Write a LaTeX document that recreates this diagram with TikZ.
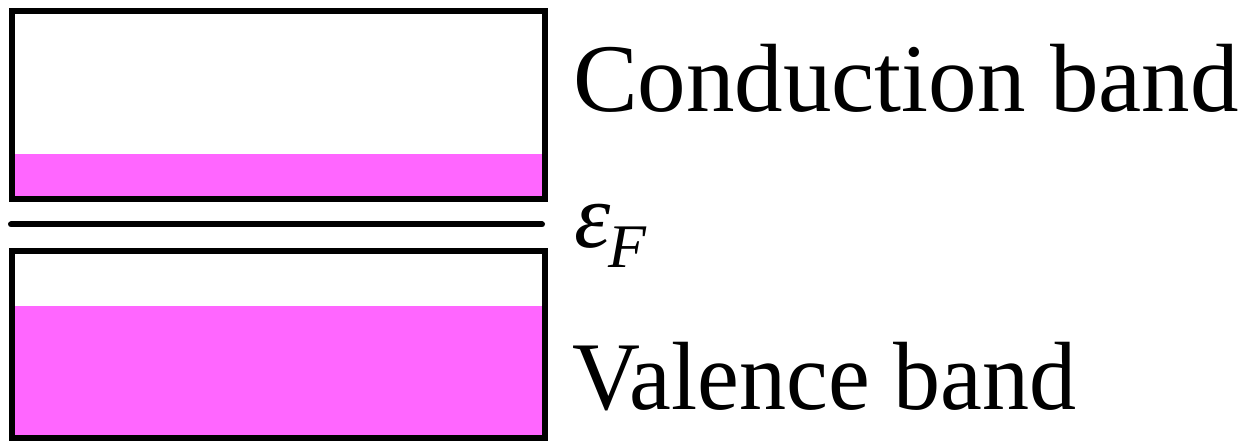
\documentclass[tikz,border=0pt]{standalone}
\usepackage{fontspec}
\setmainfont{Liberation Serif}
\definecolor{bandpink}{HTML}{FF66FF}
\begin{document}
\begin{tikzpicture}[x=1bp,y=-1bp,
  bandbox/.style={draw=black,line width=6bp},
  filled/.style={fill=bandpink},
  lbl/.style={anchor=base west,inner sep=0pt,font=\fontsize{97bp}{110bp}\selectfont}]
\useasboundingbox (0,0) rectangle (1247,441);
% conduction band
\fill[filled] (12,154) rectangle (544.5,199.5);
\draw[bandbox] (12,11) rectangle (544.5,199.5);
% Fermi level
\coordinate (fl) at (11,224.5);
\coordinate (fr) at (542,224.5);
\draw[line width=6bp,line cap=round] (fl) -- (fr);
% valence band
\fill[filled] (12,306) rectangle (544.5,438.5);
\draw[bandbox] (12,251.5) rectangle (544.5,438.5);
% labels
\node[lbl] (cb) at (573,112) {Conduction band};
\node[lbl] (vb) at (572,410) {\addfontfeature{FakeStretch=0.97}Valence band};
\node[anchor=base west,inner sep=0pt,font=\fontsize{92bp}{96bp}\selectfont\itshape] (ef) at (574,248) {ε};
\node[anchor=base west,inner sep=0pt,font=\fontsize{62bp}{64bp}\selectfont\itshape] (sub) at (608,268) {F};
\end{tikzpicture}
\end{document}
